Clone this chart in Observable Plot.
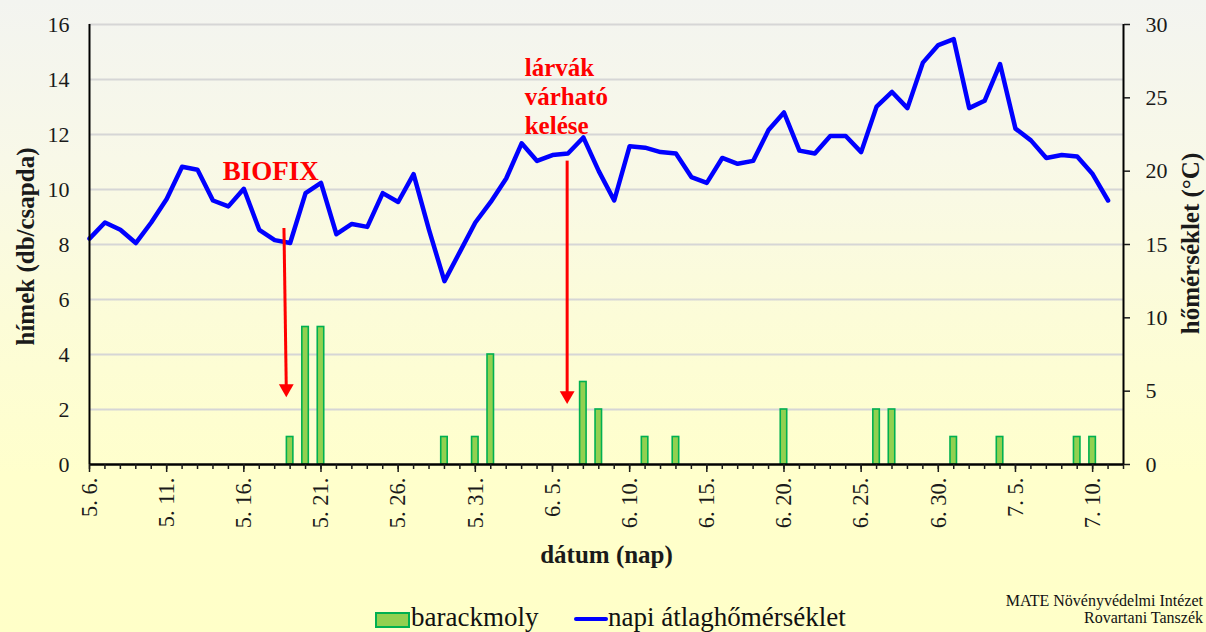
<!DOCTYPE html>
<html>
<head>
<meta charset="utf-8">
<script src="https://cdn.jsdelivr.net/npm/d3@7"></script>
<script src="https://cdn.jsdelivr.net/npm/@observablehq/plot@0.6"></script>
<style>
  html, body { margin: 0; padding: 0; }
  body {
    width: 1206px; height: 632px; overflow: hidden; position: relative;
    background: linear-gradient(to bottom, #f3f4f0 0%, #f8f8e8 25%, #fcfcd8 50%, #ffffcc 75%, #ffffc8 100%);
    font-family: 'Liberation Serif', 'Times New Roman', serif;
  }
  #chart { position: absolute; left: 0; top: 0; }
  #chart svg, #chart svg text, #chart svg tspan { font-family: 'Liberation Serif', 'Times New Roman', serif !important; }
  #legend { position: absolute; left: 0; top: 592px; width: 1206px; height: 40px; }
  .lg { position: absolute; font-family: 'Liberation Serif', serif; font-size: 27px; color: #111; line-height: 1; white-space: nowrap; }
  #credit { position: absolute; right: 3px; top: 0px; text-align: right; font-family: 'Liberation Serif', serif; font-size: 16px; line-height: 17px; color: #111; white-space: nowrap; }
</style>
</head>
<body>
<div id="chart"></div>
<div id="legend">
  <div style="position:absolute;left:375px;top:20px;width:31px;height:12px;background:#92d050;border:2px solid #00b050;"></div>
  <div class="lg" style="left:411px;top:12px;">barackmoly</div>
  <div style="position:absolute;left:574px;top:25px;width:34px;height:4px;background:#0000ff;border-radius:2px;"></div>
  <div class="lg" style="left:608px;top:12px;">napi átlaghőmérséklet</div>
  <div id="credit">MATE Növényvédelmi Intézet<br>Rovartani Tanszék</div>
</div>
<script>
// ---- data ----
const startDate = "5.6";        // first day of the series
const endDate = "7.12";         // end of the x axis
const temps = [15.4, 16.5, 16.0, 15.1, 16.5, 18.1, 20.3, 20.1, 18.0, 17.6,
               18.8, 16.0, 15.3, 15.1, 18.5, 19.2, 15.7, 16.4, 16.2, 18.5,
               17.9, 19.8, 16.0, 12.5, 14.5, 16.5, 17.9, 19.5, 21.9, 20.7,
               21.1, 21.2, 22.3, 20.0, 18.0, 21.7, 21.6, 21.3, 21.2, 19.6,
               19.2, 20.9, 20.5, 20.7, 22.8, 24.0, 21.4, 21.2, 22.4, 22.4,
               21.3, 24.4, 25.4, 24.3, 27.4, 28.6, 29.0, 24.3, 24.8, 27.3,
               22.9, 22.1, 20.9, 21.1, 21.0, 19.8, 18.0];
const barDates = ["5.19", "5.20", "5.21", "5.29", "5.31", "6.1", "6.7", "6.8", "6.11",
                  "6.13", "6.20", "6.26", "6.27", "7.1", "7.4", "7.9", "7.10"];
const barValues = [1, 5, 5, 1, 1, 4, 3, 2, 1, 1, 2, 2, 2, 1, 1, 1, 1];
const leftTicks = [0, 2, 4, 6, 8, 10, 12, 14, 16];
const rightTicks = [0, 5, 10, 15, 20, 25, 30];
const majorTickDates = ["5.6", "5.11", "5.16", "5.21", "5.26", "5.31", "6.5", "6.10",
                        "6.15", "6.20", "6.25", "6.30", "7.5", "7.10"];
// annotations: day offsets (fractional) from start and values on the left axis
const biofixNote = [{text: "BIOFIX", day: 11.75, y: 10.65}];
const larvaNote = [{text: "lárvák\nvárható\nkelése", day: 28.2, y: 13.4}];
const arrows = [
  {day1: 12.6, y1: 8.6, day2: 12.75, y2: 2.45},
  {day1: 30.95, y1: 11.05, day2: 30.95, y2: 2.2}
];

// ---- helpers ----
const YEAR = 2023, DAY = 864e5;
const parseMD = s => { const [m, d] = s.split(".").map(Number); return new Date(Date.UTC(YEAR, m - 1, d)); };
const t0 = parseMD(startDate);
const atDay = n => new Date(t0.getTime() + n * DAY);
const tScale = 16 / 30; // temperature -> left axis units

const lineData = temps.map((t, i) => ({date: atDay(i), v: t * tScale}));
const barData = barDates.map((s, i) => ({date: parseMD(s), v: barValues[i]}));
const dayTicks = d3.utcDay.range(t0, new Date(parseMD(endDate).getTime() + 1));
const majorTicks = majorTickDates.map(parseMD);
const fmt = d => `${d.getUTCMonth() + 1}. ${d.getUTCDate()}.`;

const ink = "#1a1a1a";
const serif = "'Liberation Serif', 'Times New Roman', serif";
const chart = Plot.plot({
  width: 1206, height: 592,
  marginLeft: 89, marginRight: 83, marginTop: 24, marginBottom: 128,
  style: {background: "transparent", fontFamily: serif, color: ink, overflow: "visible"},
  x: {type: "utc", domain: [t0, parseMD(endDate)]},
  y: {domain: [0, 16]},
  marks: [
    Plot.gridY(leftTicks.filter(d => d > 0), {stroke: "#d6d6d6", strokeOpacity: 1, strokeWidth: 2}),
    Plot.rectY(barData, {
      x1: d => new Date(d.date.getTime() - 0.21 * DAY),
      x2: d => new Date(d.date.getTime() + 0.21 * DAY),
      y1: 0, y2: "v",
      fill: "#92d050", stroke: "#00b050", strokeWidth: 1.6
    }),
    Plot.line(lineData, {x: "date", y: "v", stroke: "#0000ff", strokeWidth: 4.5, strokeLinejoin: "round"}),
    // frame lines
    Plot.ruleX([t0], {stroke: "#000", strokeWidth: 2}),
    Plot.ruleX([parseMD(endDate)], {stroke: "#000", strokeWidth: 2}),
    Plot.ruleY([0], {stroke: "#000", strokeWidth: 2.5}),
    // axes
    Plot.axisY(leftTicks, {anchor: "left", tickSize: 0, tickPadding: 20, fontSize: 22, label: null}),
    Plot.axisY(rightTicks.map(v => v * tScale), {
      anchor: "right", tickSize: 6, tickPadding: 16, fontSize: 22, label: null, strokeWidth: 1.5,
      tickFormat: d => String(Math.round(d / tScale))
    }),
    Plot.axisX(dayTicks, {anchor: "bottom", tickSize: 5, strokeWidth: 1.5, tickFormat: () => "", label: null}),
    Plot.axisX(majorTicks, {anchor: "bottom", tickSize: 8, strokeWidth: 1.5, tickRotate: -90, tickPadding: 5,
      fontSize: 22.5, tickFormat: fmt, label: null}),
    // axis titles
    Plot.text(["hímek (db/csapda)"], {frameAnchor: "left", textAnchor: "middle", dx: -64, dy: 2, rotate: -90,
      fontSize: 25, fontWeight: "bold", fill: ink}),
    Plot.text(["hőmérséklet (°C)"], {frameAnchor: "right", textAnchor: "middle", dx: 67, dy: -1, rotate: -90,
      fontSize: 25, fontWeight: "bold", fill: ink}),
    Plot.text(["dátum (nap)"], {frameAnchor: "bottom", dx: 0, dy: 98, fontSize: 25, fontWeight: "bold", fill: ink}),
    // annotations
    Plot.text(biofixNote, {x: d => atDay(d.day), y: "y", text: "text", textAnchor: "middle",
      fill: "#ff0000", fontWeight: "bold", fontSize: 27}),
    Plot.text(larvaNote, {x: d => atDay(d.day), y: "y", text: "text", textAnchor: "start",
      fill: "#ff0000", fontWeight: "bold", fontSize: 25, lineHeight: 1.16, lineAnchor: "middle"}),
    Plot.link(arrows, {x1: d => atDay(d.day1), y1: "y1", x2: d => atDay(d.day2), y2: d => d.y2 + 0.36,
      stroke: "#ff0000", strokeWidth: 3}),
    Plot.dot(arrows, {x: d => atDay(d.day2), y: "y2", dy: -8.5, symbol: "triangle", rotate: 180, r: 5.5,
      fill: "#ff0000", stroke: "none"})
  ]
});
document.getElementById("chart").appendChild(chart);
</script>
</body>
</html>
